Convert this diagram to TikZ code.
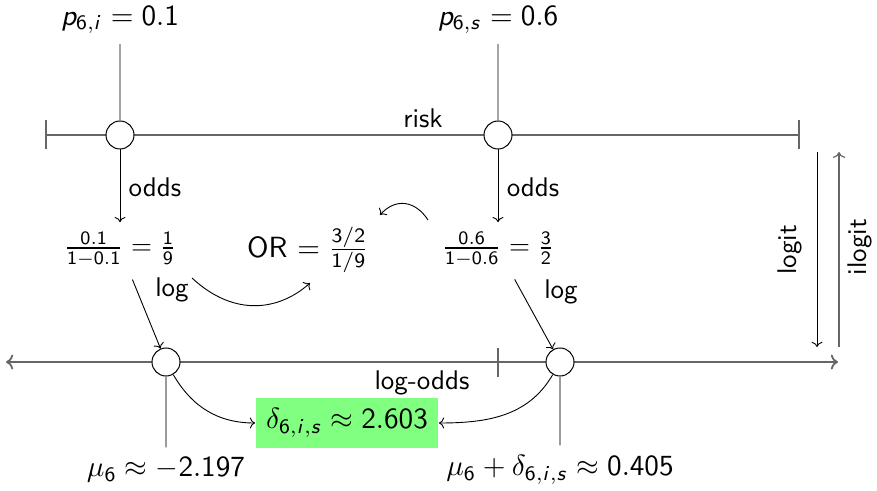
\documentclass[tikz,border=0pt]{standalone}
\usepackage{amsmath}
\usetikzlibrary{arrows.meta,calc}
\DeclareSymbolFont{sfops}{OT1}{cmss}{m}{n}
\DeclareSymbolFont{sflet}{OT1}{cmss}{m}{sl}
\SetSymbolFont{operators}{normal}{OT1}{cmss}{m}{n}
\DeclareMathSymbol{p}{\mathalpha}{sflet}{`p}
\DeclareMathSymbol{i}{\mathalpha}{sflet}{`i}
\DeclareMathSymbol{s}{\mathalpha}{sflet}{`s}
\tikzset{
  lbl/.style={font=\sffamily, scale=1.35},
  mlbl/.style={font=\sffamily, scale=1.46},
  axisline/.style={draw=black!60, line width=0.9pt},
  conn/.style={draw=black, line width=0.45pt},
  grayconn/.style={draw=black!60, line width=0.6pt},
  ring/.style={circle, draw=black, line width=0.5pt, fill=white, minimum size=14pt, inner sep=0pt},
  resbox/.style={font=\sffamily, scale=1.46, fill=green!50, inner sep=3.6pt},
}
\begin{document}
\begin{tikzpicture}[x=0.5pt,y=-0.5pt]
\useasboundingbox (0,0) rectangle (877,491);
% risk axis
\coordinate (rL) at (45,135);
\coordinate (rR) at (800,135);
\draw[axisline, {Bar[width=14.5pt]}-{Bar[width=14.5pt]}] (rL) -- (rR);
\node[lbl] (risk) at (423,118) {risk};
% log-odds axis
\coordinate (lL) at (6,362);
\coordinate (lR) at (838,362);
\draw[axisline, <->] (lL) -- (lR);
\coordinate (tk) at (498,362);
\draw[axisline] ($(tk)+(0,-14)$) -- ($(tk)+(0,15)$);
\node[lbl] (lo) at (422,383) {log-odds};
% rings
\node[ring] (ci) at (120,135) {};
\node[ring] (cs) at (498,135) {};
\node[ring] (li) at (166,362) {};
\node[ring] (ls) at (560,362) {};
% top labels
\node[mlbl] (pi) at (120,20) {$p_{6,i} = 0.1$};
\node[mlbl] (ps) at (498,20) {$p_{6,s} = 0.6$};
\draw[conn] (pi) -- (ci);
\draw[conn] (ps) -- (cs);
% odds
\node[lbl] (oi) at (120,249) {$\frac{0.1}{1-0.1} = \frac{1}{9}$};
\node[lbl] (os) at (498,249) {$\frac{0.6}{1-0.6} = \frac{3}{2}$};
\node[mlbl] (or) at (308,250) {OR $= \frac{3/2}{1/9}$};
\draw[conn, ->] (ci) -- (ci |- oi.north);
\draw[conn, ->] (cs) -- (cs |- os.north);
\node[lbl] (oddi) at (155,187) {odds};
\node[lbl] (odds) at (533,187) {odds};
% log arrows
\draw[conn, ->, shorten <=2pt] (oi) -- (li);
\draw[conn, ->, shorten <=2pt] (os) -- (ls);
\node[lbl] (logi) at (172,290) {log};
\node[lbl] (logs) at (561,292) {log};
% OR arrows
\coordinate (a1) at (192,278);
\coordinate (a2) at (310,283);
\draw[conn, ->] (a1) .. controls (235,318) and (280,310) .. (a2);
\coordinate (b1) at (428,220);
\coordinate (b2) at (380,215);
\draw[conn, ->] (b1) .. controls (415,200) and (395,198) .. (b2);
% bottom
\node[mlbl] (mi) at (166,470) {$\mu_6 \approx -2.197$};
\node[mlbl] (ms) at (560,470) {$\mu_6 + \delta_{6,i,s} \approx 0.405$};
\draw[grayconn] (li) -- (mi);
\draw[grayconn] (ls) -- (ms);
\node[resbox] (d) at (347,423) {$\delta_{6,i,s} \approx 2.603$};
\draw[conn, ->] (li) to[out=-60, in=180] (d.west);
\draw[conn, ->] (ls) to[out=-120, in=0] (d.east);
% logit / ilogit
\coordinate (g1) at (817,152);
\coordinate (g2) at (817,347);
\coordinate (h1) at (839,347);
\coordinate (h2) at (839,152);
\draw[conn, ->] (g1) -- (g2);
\draw[grayconn, ->] (h1) -- (h2);
\node[lbl, rotate=90] (lg) at (790,250) {logit};
\node[lbl, rotate=90] (ilg) at (860,247) {ilogit};
\end{tikzpicture}
\end{document}
